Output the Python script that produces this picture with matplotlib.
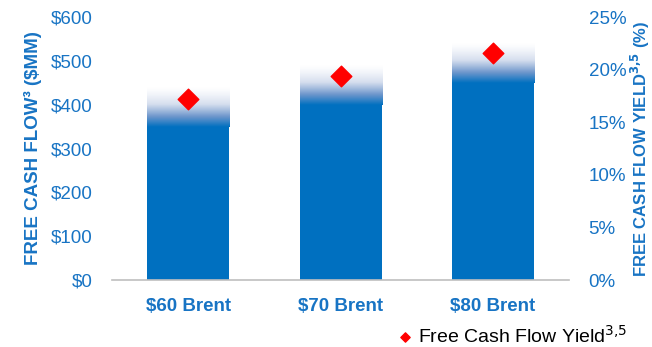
import matplotlib.pyplot as plt
import numpy as np
from matplotlib.colors import LinearSegmentedColormap
from matplotlib.ticker import FuncFormatter, MultipleLocator

plt.rcParams['font.family'] = ['Liberation Sans', 'DejaVu Sans']

# free cash flow ($MM): solid part and faded upper range
escenarios = ["$60 Brent", "$70 Brent", "$80 Brent"]
fcf_base = [350, 400, 450]
fcf_alto = [440, 490, 540]
# free cash flow yield (%)
fcf_yield = [17.2, 19.4, 21.6]

AZUL = "#0070C0"
AZUL_TEXTO = "#1874C4"

fig = plt.figure(figsize=(6.52, 3.47), dpi=100)
ax = fig.add_axes([0.172, 0.193, 0.701, 0.758])
ax2 = ax.twinx()

x = np.arange(len(escenarios))
largura = 0.54

ax.bar(x, fcf_base, width=largura, color=AZUL, zorder=2)

# gradiente de azul (embaixo) para branco (em cima)
cmap = LinearSegmentedColormap.from_list("fade", ["white", "#D5DEEE", "#6F97CC", AZUL])
grad = np.linspace(1, 0, 256).reshape(-1, 1) ** 1.3
for xi, b, t in zip(x, fcf_base, fcf_alto):
    ax.imshow(grad, cmap=cmap, aspect="auto", vmin=0, vmax=1, origin="lower",
              extent=[xi - largura / 2, xi + largura / 2, b, t], zorder=1)

ax.set_xlim(-0.5, 2.5)
ax.set_ylim(0, 600)
ax.yaxis.set_major_locator(MultipleLocator(100))
ax.yaxis.set_major_formatter(FuncFormatter(lambda v, p: f"${v:.0f}"))
ax.set_xticks(x)
ax.set_xticklabels(escenarios, fontweight="bold", fontsize=14.5, color=AZUL_TEXTO)

ax2.scatter(x, fcf_yield, marker="D", s=110, color="red", zorder=5,
            label="Free Cash Flow Yield$^{3{,}5}$")
ax2.set_ylim(0, 25)
ax2.yaxis.set_major_locator(MultipleLocator(5))
ax2.yaxis.set_major_formatter(FuncFormatter(lambda v, p: f"{v:.0f}%"))

for a in (ax, ax2):
    for s in a.spines.values():
        s.set_visible(False)
    a.tick_params(length=0, labelsize=13.5, labelcolor=AZUL_TEXTO)
ax.tick_params(axis="x", pad=13)
ax.tick_params(axis="y", pad=14)
ax2.tick_params(axis="y", pad=14)
ax.spines["bottom"].set_visible(True)
ax.spines["bottom"].set_color("#BFBFBF")
ax.spines["bottom"].set_linewidth(1.2)

ax.set_ylabel("FREE CASH FLOW³ ($MM)", fontsize=13.5, fontweight="bold", color=AZUL_TEXTO, labelpad=6)
ax2.set_ylabel("FREE CASH FLOW YIELD$^{\\mathbf{3{,}5}}$ (%)", fontsize=12, fontweight="bold",
               color=AZUL_TEXTO, labelpad=2)

ax2.legend(loc="lower right", bbox_to_anchor=(1.147, -0.29), frameon=False,
           handlelength=0.7, handletextpad=0.3, markerscale=0.45, borderpad=0,
           prop={'size': 14})

plt.savefig("out.png", dpi=100)
